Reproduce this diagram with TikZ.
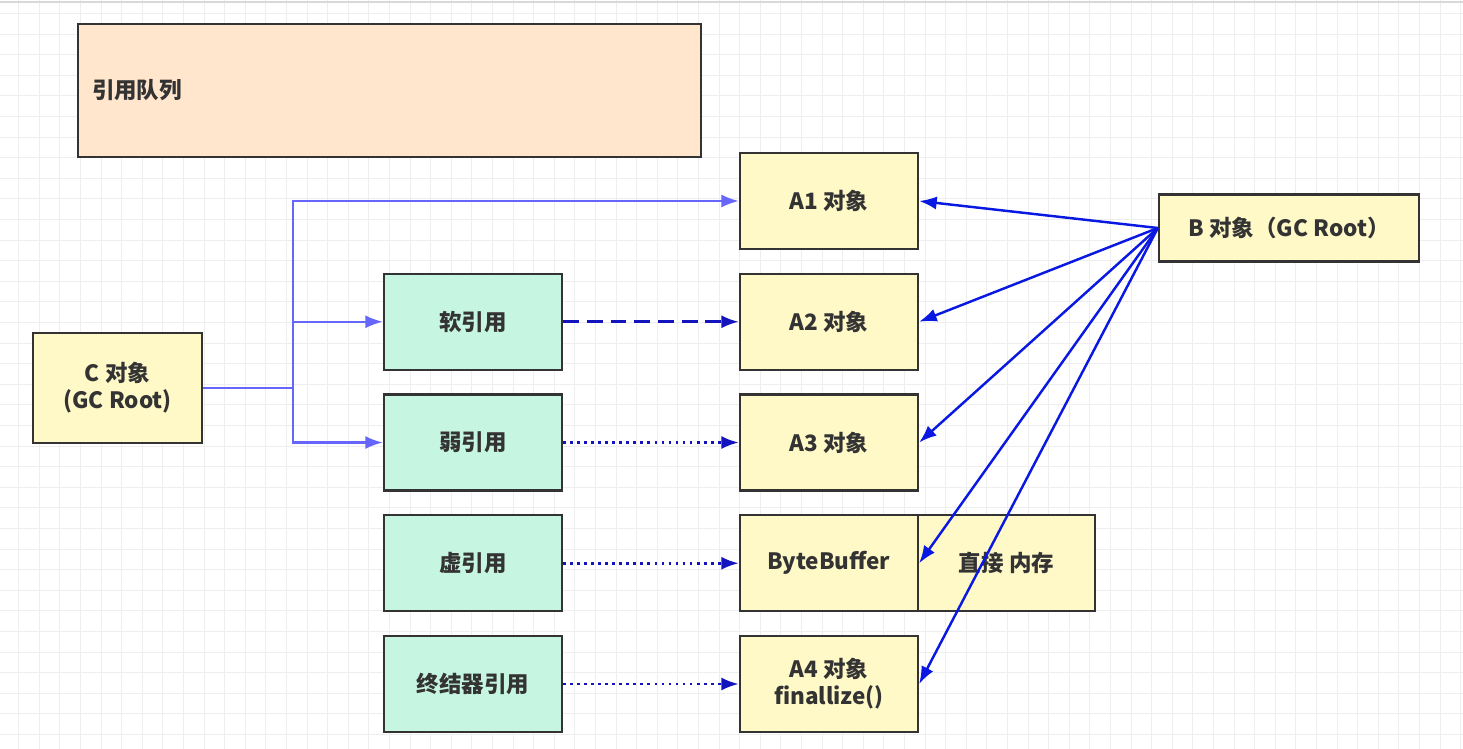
\documentclass[tikz,border=0pt]{standalone}
\usepackage{fontspec}
\setmainfont{Noto Sans CJK SC}
\usetikzlibrary{arrows.meta}

\definecolor{queuefill}{RGB}{255,230,204}
\definecolor{objfill}{RGB}{255,249,200}
\definecolor{reffill}{RGB}{198,246,226}
\definecolor{boxline}{RGB}{51,51,51}
\definecolor{forkblue}{RGB}{102,102,250}
\definecolor{refblue}{RGB}{20,20,190}
\definecolor{rootblue}{RGB}{10,25,225}

\begin{document}
\begin{tikzpicture}[->,>={Latex[length=10pt,width=7.5pt]},node distance=2.415cm,
                    font=\fontsize{12.8}{15.5}\selectfont\bfseries]
  \tikzstyle{box}=[draw=boxline,line width=1.3pt,text=boxline,align=center,
                   minimum width=3.56cm,minimum height=1.92cm]
  \tikzstyle{obj}=[box,fill=objfill]
  \tikzstyle{ref}=[box,fill=reffill]

  \useasboundingbox (0,0) rectangle (29.26,-14.98);
  \begin{scope}
    \clip (0,0) rectangle (29.26,-14.98);
    \draw[-,gray!13,line width=0.5pt,shift={(-0.04,-0.27)},step=0.412cm] (-1,1) grid (31,-16);
    \draw[-,gray!30,line width=0.8pt] (0,-0.04) -- (29.26,-0.04);
  \end{scope}

  \node[box,fill=queuefill,minimum width=12.46cm,minimum height=2.66cm,
        text width=11.9cm,inner xsep=0.28cm,align=left] (queue) at (7.79,-1.81) {引用队列};

  \node[obj]         (A1) at (16.58,-4.02) {A1 对象};
  \node[obj]         (A2) [below of=A1]  {A2 对象};
  \node[obj]         (A3) [below of=A2]  {A3 对象};
  \node[obj]         (buf) [below of=A3] {ByteBuffer};
  \node[obj]         (A4) [below of=buf] {A4 对象\\finallize()};
  \node[obj, minimum width=3.54cm] (mem) [right of=buf, node distance=3.55cm] {直接 内存};

  \node[ref] (soft)    [left of=A2, node distance=7.12cm]  {软引用};
  \node[ref] (weak)    [left of=A3, node distance=7.12cm]  {弱引用};
  \node[ref] (phantom) [left of=buf, node distance=7.12cm] {虚引用};
  \node[ref] (final)   [left of=A4, node distance=7.12cm]  {终结器引用};

  \node[obj, minimum width=5.2cm, minimum height=1.34cm] (B) at (25.78,-4.56) {B 对象（GC Root）};
  \node[obj, minimum width=3.38cm, minimum height=2.2cm] (C) at (2.35,-7.76) {C 对象\\(GC Root)};

  % C object fans out
  \draw[-,forkblue,line width=1.4pt] (C.east) -- ++(1.8,0) coordinate (fork);
  \draw[forkblue,line width=1.4pt] (fork) |- (A1);
  \draw[forkblue,line width=1.4pt] (fork) |- (soft);
  \draw[forkblue,line width=1.4pt] (fork) |- (weak);

  % references to objects
  \draw[refblue,line width=1.6pt,dash pattern=on 9pt off 4.5pt] (soft) -- (A2);
  \draw[refblue,line width=1.6pt,dash pattern=on 1.6pt off 2.4pt] (weak) -- (A3);
  \draw[refblue,line width=1.6pt,dash pattern=on 1.6pt off 2.4pt] (phantom) -- (buf);
  \draw[refblue,line width=1.6pt,dash pattern=on 1.6pt off 2.4pt] (final) -- (A4);

  % B object holds all
  \draw[rootblue,line width=1.4pt] (B.west) -- (A1.east);
  \draw[rootblue,line width=1.4pt] (B.west) -- (A2.east);
  \draw[rootblue,line width=1.4pt] (B.west) -- (A3.east);
  \draw[rootblue,line width=1.4pt] (B.west) -- (buf.east);
  \draw[rootblue,line width=1.4pt] (B.west) -- (A4.east);
\end{tikzpicture}
\end{document}
